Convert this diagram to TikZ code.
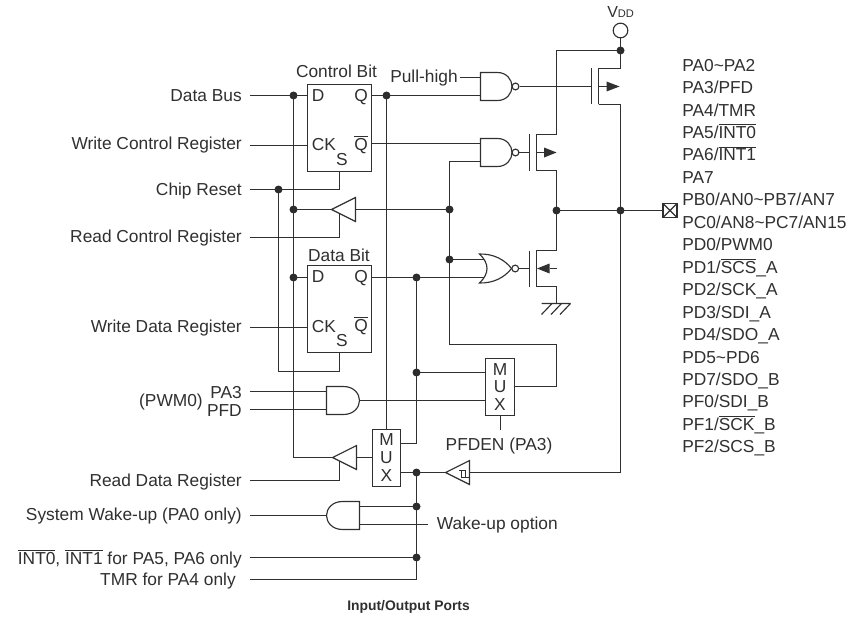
\documentclass[tikz,border=0pt]{standalone}
\usepackage{fontspec}
\setmainfont{Liberation Sans}
\newcommand{\ovl}[1]{\ensuremath{\overline{\hbox{#1}}}}
\definecolor{ink}{HTML}{303030}
\tikzset{
  x=0.75pt,y=-0.75pt,
  wire/.style={draw=ink,line width=0.85pt,line cap=butt,line join=miter},
  txt/.style={inner sep=0pt,text=ink,font=\fontsize{13pt}{15pt}\selectfont},
  rlabel/.style={txt,anchor=base east},
  llabel/.style={txt,anchor=base west},
  clabel/.style={txt,anchor=base},
  dot/.style={circle,fill=ink!90!black,inner sep=0pt,minimum size=6pt},
  ffbox/.style={draw=ink,line width=0.85pt,inner sep=0pt,outer sep=0pt,minimum width=48pt,minimum height=65.25pt},
  muxbox/.style={draw=ink,line width=0.85pt,inner sep=0pt,outer sep=0pt,minimum height=42.75pt},
  pad/.style={draw=ink,line width=0.85pt,inner sep=0pt,outer sep=0pt,minimum size=10.5pt,
    path picture={\draw[wire] (path picture bounding box.north west)--(path picture bounding box.south east)
      (path picture bounding box.north east)--(path picture bounding box.south west);}},
  vddring/.style={circle,draw=ink,line width=0.85pt,inner sep=0pt,outer sep=0pt,minimum size=11pt},
  andgate/.pic={\draw[wire,fill=white] (0,-14)--(17,-14) .. controls (27,-14) and (33,-7) .. (33,0) .. controls (33,7) and (27,14) .. (17,14)--(0,14)--cycle;},
  nandgate/.pic={\draw[wire,fill=white] (0,-14)--(17,-14) .. controls (26,-14) and (31.5,-7) .. (31.5,0) .. controls (31.5,7) and (26,14) .. (17,14)--(0,14)--cycle;
    \draw[wire,fill=white] (35,0) circle[radius=3.4];},
  norgate/.pic={\draw[wire,fill=white] (0,-14.5) .. controls (10,-5) and (10,5) .. (0,14.5) .. controls (14,14.8) and (25,9) .. (32,0) .. controls (25,-9) and (14,-14.8) .. (0,-14.5)--cycle;
    \draw[wire,fill=white] (35.7,0) circle[radius=3.4];},
  bufgate/.pic={\draw[wire,fill=white] (0,0)--(24,-12)--(24,12)--cycle;},
  pmosw/.pic={\draw[wire] (0,-18)--(0,18) (7,18)--(7,-18)--(29,-18) (7,18)--(29,18) (7,0)--(15,0);
    \fill[ink] (15,-5)--(28,0)--(15,5)--cycle;},
  pmosn/.pic={\draw[wire] (0,-18)--(0,18) (7,18)--(7,-18)--(27,-18) (7,18)--(27,18) (7,0)--(14.5,0);
    \fill[ink] (14.5,-5)--(27,0)--(14.5,5)--cycle;},
  nmos/.pic={\draw[wire] (0,-18)--(0,18) (7,18)--(7,-18)--(27,-18) (7,18)--(27,18) (27,0)--(20,0);
    \fill[ink] (7.5,0)--(20,-5)--(20,5)--cycle;},
}
\begin{document}
\begin{tikzpicture}
\useasboundingbox[fill=white] (0,0) rectangle (848,624);
% boxes
\node[ffbox] (ffc) at (339.5,128) {};
\node[ffbox] (ffd) at (339.5,309) {};
\node[muxbox,minimum width=21.75pt] (mxa) at (500,387) {};
\node[muxbox,minimum width=21pt] (mxb) at (386.5,458) {};
\node[pad] (pad) at (670,210.5) {};
\node[vddring] (vdd) at (620.5,30.5) {};
% junctions
\node[dot] (jdb) at (293.5,95.5) {};
\node[dot] (jq) at (386.5,95.5) {};
\node[dot] (jcr) at (278.5,189.5) {};
\node[dot] (jrc) at (293.5,209.5) {};
\node[dot] (jfb) at (449.5,209.5) {};
\node[dot] (jnor) at (449.5,259.5) {};
\node[dot] (jd2) at (293.5,277.5) {};
\node[dot] (jq2) at (416.5,277.5) {};
\node[dot] (jmx) at (416.5,372.5) {};
\node[dot] (jsc) at (416.5,472.5) {};
\node[dot] (jwk) at (416.5,506.5) {};
\node[dot] (jint) at (416.5,557.5) {};
\node[dot] (jmid) at (556.5,210.5) {};
\node[dot] (jout) at (620.5,210.5) {};
\node[dot] (jvdd) at (620.5,50.5) {};
% gates
\pic at (480.5,86.5) {nandgate};
\pic at (480.5,152.5) {nandgate};
\pic at (479.5,268.5) {norgate};
\pic at (326.5,400.5) {andgate};
\pic[xscale=-1] at (359.5,515.5) {andgate};
\pic at (331.5,209.5) {bufgate};
\pic at (332.5,457.5) {bufgate};
\pic at (445.5,472.5) {bufgate};
\pic at (591.5,86.5) {pmosw};
\pic at (529.5,152.5) {pmosn};
\pic at (529.5,268.5) {nmos};
% free ends
\coordinate (sdb) at (250,95.5);
\coordinate (swc) at (250,145.5);
\coordinate (scr) at (250,189.5);
\coordinate (src) at (250,237.5);
\coordinate (swd) at (250,327.5);
\coordinate (spa) at (250,391.5);
\coordinate (spf) at (250,409.5);
\coordinate (srd) at (250,480.5);
\coordinate (ssw) at (250,515.5);
\coordinate (sin) at (250,557.5);
\coordinate (stm) at (250,579.5);
% wires
\draw[wire] (sdb)--(jdb.center)--(307.5,95.5);
\draw[wire] (swc)--(307.5,145.5);
\draw[wire] (scr)--(339.5,189.5)--(339.5,171.5);
\draw[wire] (jcr.center)--(278.5,371.5)--(339.5,371.5)--(339.5,352.5);
\draw[wire] (jdb.center)--(293.5,457.5)--(332.5,457.5);
\draw[wire] (jd2.center)--(307.5,277.5);
\draw[wire] (swd)--(307.5,327.5);
\draw[wire] (src)--(339.5,237.5)--(339.5,213.5);
\draw[wire] (srd)--(339.5,480.5)--(339.5,461);
\draw[wire] (jrc.center)--(331.5,209.5);
\draw[wire] (355.5,209.5)--(jfb.center);
\draw[wire] (371.5,95.5)--(jq.center)--(480.5,95.5);
\draw[wire] (jq.center)--(386.5,429.5);
\draw[wire] (371.5,143.5)--(480.5,143.5);
\draw[wire] (480.5,161.5)--(449.5,161.5)--(449.5,344.5)--(556.5,344.5)--(556.5,386.5)--(514.5,386.5);
\draw[wire] (jnor.center)--(484,259.5);
\draw[wire] (371.5,277.5)--(484,277.5);
\draw[wire] (jq2.center)--(416.5,443.5)--(400.5,443.5);
\draw[wire] (jmx.center)--(485.5,372.5);
\draw[wire] (359.5,400.5)--(485.5,400.5);
\draw[wire] (500.5,415.5)--(500.5,429.5);
\draw[wire] (spa)--(326.5,391.5);
\draw[wire] (spf)--(326.5,409.5);
\draw[wire] (356.5,457.5)--(372.5,457.5);
\draw[wire] (400.5,472.5)--(445.5,472.5);
\draw[wire] (jsc.center)--(416.5,579.5)--(stm);
\draw[wire] (sin)--(jint.center);
\draw[wire] (ssw)--(326.5,515.5);
\draw[wire] (359.5,506.5)--(jwk.center);
\draw[wire] (359.5,524.5)--(427.5,524.5);
\draw[wire] (vdd)--(jvdd.center);
\draw[wire] (jvdd.center)--(620.5,68.5);
\draw[wire] (jvdd.center)--(556.5,50.5)--(556.5,134.5);
\draw[wire] (519.5,86.5)--(591.5,86.5);
\draw[wire] (518.9,152.5)--(529.5,152.5);
\draw[wire] (518.6,268.5)--(529.5,268.5);
\draw[wire] (620.5,104.5)--(620.5,472.5)--(469.5,472.5);
\draw[wire] (556.5,170.5)--(556.5,250.5);
\draw[wire] (556.5,286.5)--(556.5,303.5);
\draw[wire] (jmid.center)--(pad);
% ground
\draw[wire] (541.5,303.5)--(570.5,303.5) (552,303.5)--(541.5,314.5) (561.5,303.5)--(551,314.5) (570.5,303.5)--(560,314.5);
% schmitt symbol
\draw[wire,line width=0.7pt] (459,470.5)--(465.5,470.5)--(465.5,477) (461.5,470.5)--(461.5,477)--(469,477);
% pull-high stub
\node[rlabel] (lph) at (458,82.7) {Pull-high};
\coordinate (ph) at (459.7,77.5);
\draw[wire] (ph)--(480.5,77.5);
% labels
\node[txt,anchor=base west] (lv) at (607,18) {{\fontsize{12pt}{13pt}\selectfont V}{\fontsize{8.3pt}{10pt}\selectfont DD}};
\node[clabel] (lcb) at (336.5,77.7) {Control Bit};
\node[clabel] (ldb2) at (339,261) {Data Bit};
\foreach \n/\o in {a/0,b/181}{
  \node[llabel] (ld\n) at (311.7,101.7+\o) {D};
  \node[rlabel] (lq\n) at (368,101.7+\o) {Q};
  \node[llabel] (lk\n) at (311.7,151+\o) {CK};
  \node[rlabel] (lb\n) at (368,150.7+\o) {\ovl{Q}};
  \node[clabel] (ls\n) at (342,165.7+\o) {S};
}
\foreach \n/\t/\xx/\yy in {ma/M/500/375,ua/U/500/392.7,xa/X/500/410,mb/M/386.5/445.7,ub/U/386.5/463.3,xb/X/386.5/481}{
  \node[clabel] (l\n) at (\xx,\yy) {\t};
}
\node[clabel] (lpfd) at (499,450) {PFDEN (PA3)};
\node[llabel] (lwk) at (436.7,529) {Wake-up option};
\node[rlabel] (l1) at (242,102) {Data Bus};
\node[rlabel] (l2) at (242,150) {Write Control Register};
\node[rlabel] (l3) at (242,195.3) {Chip Reset};
\node[rlabel] (l4) at (242,242) {Read Control Register};
\node[rlabel] (l5) at (242,332.3) {Write Data Register};
\node[rlabel] (l6) at (242,398) {PA3};
\node[rlabel] (l7) at (242,416) {PFD};
\node[rlabel] (l8) at (203,406.7) {(PWM0)};
\node[rlabel] (l9) at (242,486.7) {Read Data Register};
\node[rlabel] (l10) at (242,520.7) {System Wake-up (PA0 only)};
\node[rlabel] (l11) at (242,564) {\ovl{INT0}, \ovl{INT1} for PA5, PA6 only};
\node[rlabel] (l12) at (236,585.7) {TMR for PA4 only};
\node[txt,anchor=base,font=\fontsize{10.4pt}{13pt}\selectfont\bfseries] (ttl) at (408.5,610) {Input/Output Ports};
\node[llabel] (r0) at (682,71.3) {PA0\textasciitilde PA2};
\node[llabel] (r1) at (682,93.7) {PA3/PFD};
\node[llabel] (r2) at (682,116.2) {PA4/TMR};
\node[llabel] (r3) at (682,138.6) {PA5/\ovl{INT0}};
\node[llabel] (r4) at (682,161) {PA6/\ovl{INT1}};
\node[llabel] (r5) at (682,183.5) {PA7};
\node[llabel] (r6) at (682,205.9) {PB0/AN0\textasciitilde PB7/AN7};
\node[llabel] (r7) at (682,228.4) {PC0/AN8\textasciitilde PC7/AN15};
\node[llabel] (r8) at (682,250.8) {PD0/PWM0};
\node[llabel] (r9) at (682,273.2) {PD1/\ovl{SCS}\_A};
\node[llabel] (r10) at (682,295.7) {PD2/SCK\_A};
\node[llabel] (r11) at (682,318.1) {PD3/SDI\_A};
\node[llabel] (r12) at (682,340.6) {PD4/SDO\_A};
\node[llabel] (r13) at (682,363) {PD5\textasciitilde PD6};
\node[llabel] (r14) at (682,385.4) {PD7/SDO\_B};
\node[llabel] (r15) at (682,407.9) {PF0/SDI\_B};
\node[llabel] (r16) at (682,430.3) {PF1/\ovl{SCK}\_B};
\node[llabel] (r17) at (682,452.8) {PF2/SCS\_B};
\end{tikzpicture}
\end{document}
